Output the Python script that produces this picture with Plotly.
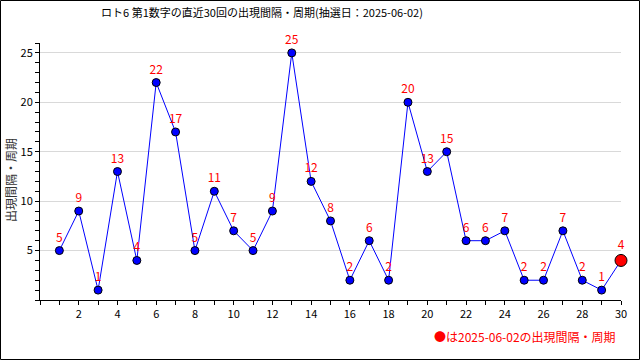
import plotly.graph_objects as go

draws = list(range(1, 31))
intervals = [5, 9, 1, 13, 4, 22, 17, 5, 11, 7, 5, 9, 25, 12, 8, 2, 6, 2, 20, 13, 15, 6, 6, 7, 2, 2, 7, 2, 1, 4]
title_text = "ロト6 第1数字の直近30回の出現間隔・周期(抽選日：2025-06-02)"
ytitle = "出現間隔・周期"
note = "●は2025-06-02の出現間隔・周期"

FONT = "Noto Sans CJK JP"
W, H = 640, 360
ml, mr, mt, mb = 40, 19, 43, 60
pw, ph = W - ml - mr, H - mt - mb

fig = go.Figure()
fig.add_trace(go.Scatter(
    x=draws, y=intervals,
    mode="lines", line=dict(color="#0000ff", width=1), hoverinfo="skip", showlegend=False))
fig.add_trace(go.Scatter(
    x=draws[:-1], y=intervals[:-1], mode="markers+text",
    marker=dict(color="#0000ff", size=8, line=dict(color="black", width=1)),
    text=[str(v) for v in intervals[:-1]], textposition="top center",
    textfont=dict(color="red", size=12, family=FONT), showlegend=False, cliponaxis=False))
fig.add_trace(go.Scatter(
    x=draws[-1:], y=intervals[-1:], mode="markers+text",
    marker=dict(color="red", size=12, line=dict(color="black", width=1)),
    text=[str(intervals[-1])], textposition="top center",
    textfont=dict(color="red", size=12, family=FONT), showlegend=False, cliponaxis=False))

fig.update_layout(
    width=W, height=H, margin=dict(l=ml, r=mr, t=mt, b=mb, autoexpand=False),
    paper_bgcolor="white", plot_bgcolor="white",
    font=dict(family=FONT, size=11, color="black"),
    title=dict(text=title_text, x=262 / W, xanchor="center", xref="container",
               y=1 - 13 / H, yanchor="middle",
               font=dict(size=11, family=FONT, color="black")),
    xaxis=dict(range=[0, 30], tickmode="array", tickvals=list(range(2, 31, 2)),
               ticks="outside", ticklen=4, tickcolor="black", showline=True, linecolor="black",
               linewidth=1, showgrid=False, zeroline=False, automargin=False,
               minor=dict(tickmode="linear", tick0=0, dtick=1, ticks="outside", ticklen=4, tickcolor="black"),
               tickfont=dict(size=11, family=FONT)),
    yaxis=dict(range=[0, 26], tickmode="array", tickvals=[5, 10, 15, 20, 25],
               ticks="outside", ticklen=4, tickcolor="black", showline=True, linecolor="black",
               linewidth=1, showgrid=True, gridcolor="#d9d9d9", zeroline=False, automargin=False,
               minor=dict(tickmode="linear", tick0=0, dtick=1, ticks="outside", ticklen=4, tickcolor="black"),
               tickfont=dict(size=11, family=FONT)),
)
fig.add_annotation(text=ytitle, xref="paper", yref="paper", x=-30 / pw, y=(300 - 180) / ph,
                   xanchor="center", yanchor="middle", textangle=-90, showarrow=False,
                   font=dict(size=12, color="#333333", family=FONT))
fig.add_annotation(text=note, xref="paper", yref="paper", x=1 - 3 / pw, y=-36 / ph,
                   xanchor="right", yanchor="middle", showarrow=False,
                   font=dict(color="red", size=12, family=FONT))
fig.add_shape(type="rect", xref="paper", yref="paper",
              x0=(-ml + 0.5) / pw, x1=1 + (mr - 0.5) / pw,
              y0=(-mb + 0.5) / ph, y1=1 + (mt - 0.5) / ph,
              line=dict(color="black", width=1))
fig.write_html("out.html", config={"displayModeBar": False},
               post_script="document.body.style.margin='0';document.body.style.overflow='hidden';")
